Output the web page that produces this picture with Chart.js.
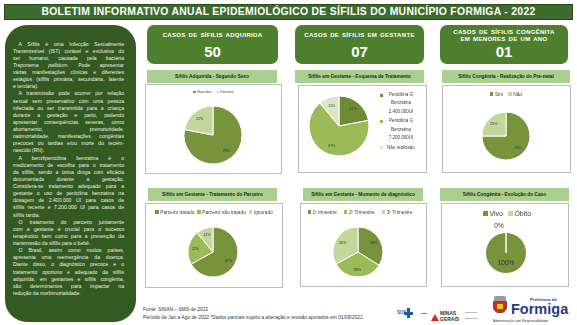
<!DOCTYPE html>
<html lang="pt-BR">
<head>
<meta charset="utf-8">
<script src="https://cdn.jsdelivr.net/npm/chart.js@4.4.1/dist/chart.umd.min.js"></script>
<style>
*{box-sizing:border-box}
html,body{margin:0;padding:0;background:#fff}
body{width:577px;height:325px;position:relative;overflow:hidden;font-family:"Liberation Sans",Arial,sans-serif}
.abs{position:absolute}
#hdr{left:4px;top:4px;width:569px;height:16px;background:#3d6b2b;border:1px solid #294a1b;color:#fff;font-weight:bold;font-size:10.4px;text-align:center;line-height:14px;letter-spacing:.3px}
#side{left:5px;top:25px;width:131px;height:297px;background:#325a21;border-radius:22px}
#sideText{left:13px;top:40.5px;width:111px;color:#eef3e6;font-size:5.1px;line-height:7.14px}
#sideText div{white-space:nowrap;height:7.14px}
.kpi{background:#4e7f2e;border-radius:7px;color:#fff;text-align:center}
.kpi .lbl{position:absolute;left:0;right:0;top:1px;height:17px;display:flex;align-items:center;justify-content:center;font-weight:bold;font-size:6.1px;line-height:7px;letter-spacing:.25px;word-spacing:1px}
.kpi .num{position:absolute;left:0;right:0;top:19px;font-weight:bold;font-size:15px;line-height:16px}
.tb{background:#a9d08e;color:#1e2a14;font-weight:bold;font-size:4.8px;display:flex;align-items:center;justify-content:center;white-space:nowrap}
.pn{background:#fff;border:1px solid #bdbdbd}
.lg{display:flex;justify-content:center;align-items:center;color:#404040;white-space:nowrap}
.lg span{display:flex;align-items:center}
.lg i{display:inline-block;margin-right:1.5px}
#lg2{color:#404040;font-size:4.5px;line-height:8.3px}
#lg2 .it{display:flex;align-items:flex-start;margin-bottom:1.5px}
#lg2 i{display:inline-block;width:3px;height:3px;margin-top:2.7px;margin-right:2px}
#lg2 .tx{width:32px;text-align:center}
#foot{left:143px;top:306px;color:#333;font-size:4.9px;line-height:7.5px}
</style>
</head>
<body>
<div id="hdr" class="abs">BOLETIM INFORMATIVO ANUAL EPIDEMIOLÓGICO DE SÍFILIS DO MUNICÍPIO FORMIGA - 2022</div>
<div id="side" class="abs"></div>
<div id="sideText" class="abs"></div>
<div id="foot" class="abs">Fonte: SINAN – SMS de 2022<br>Período de Jan a Ago de 2022 *Dados parciais sujeito a alteração e revisão apurados em 01/09/2022.</div>

<!-- logos -->
<div class="abs" style="left:397px;top:310px;font-size:4.5px;font-weight:bold;color:#1f5aa6">SUS</div>
<div class="abs" style="left:407px;top:308px;width:3px;height:10px;background:#1f5aa6"></div>
<div class="abs" style="left:404px;top:311.5px;width:9px;height:3px;background:#1f5aa6"></div>
<div class="abs" style="left:421px;top:312.5px;width:6px;height:1px;background:#888"></div>
<div class="abs" style="left:431px;top:314px;width:0;height:0;border-left:4px solid transparent;border-right:4px solid transparent;border-bottom:7px solid #d3282e"></div>
<div class="abs" style="left:440px;top:311px;font-size:5px;line-height:5.5px;font-weight:bold;color:#333">MINAS<br>GERAIS</div>
<div class="abs" style="left:465px;top:312px;width:12px;height:7px;border-top:1px solid #bbb;border-bottom:1px solid #bbb"></div>
<div class="abs" style="left:494px;top:296px;width:12px;height:5px;background:#9a9a9a;border-radius:2px 2px 0 0"></div>
<div class="abs" style="left:493px;top:301px;width:14px;height:12px;background:#c0302c;border-radius:0 0 6px 6px;border:1px solid #6b4b2b"></div>
<div class="abs" style="left:497px;top:304px;width:6px;height:5px;background:#f0c419"></div>
<div class="abs" style="left:530px;top:297px;font-size:4.4px;font-weight:bold;color:#1e3c84">Prefeitura de</div>
<div class="abs" style="left:511px;top:302px;font-size:14.5px;line-height:15px;font-weight:bold;color:#1e3c84">Formiga</div>
<div class="abs" style="left:493px;top:318.5px;font-size:3.3px;color:#333">Administração com Responsabilidade</div>

<script>
// kpi cards
const kpiTitles = ['CASOS DE SÍFILIS ADQUIRIDA', 'CASOS DE SÍFILIS EM GESTANTE', 'CASOS DE SÍFILIS CONGÊNITA<br>EM MENORES DE UM ANO'];
const kpiValues = ['50', '07', '01'];

// chart titles
const chartTitles = [
  'Sífilis Adquirida - Segundo Sexo',
  'Sífilis em Gestante - Esquema de Tratamento',
  'Sífilis Congênita - Realização do Pré-natal',
  'Sífilis em Gestante - Tratamento do Parceiro',
  'Sífilis em Gestante - Momento de diagnóstico',
  'Sífilis Congênita - Evolução do Caso'
];

// pie data (percent)
const sexoLabels = ['Masculino', 'Feminino'];
const sexoValues = [78, 22];
const tratamentoLabels = ['Penicilina G Benzatina 2.400.000UI', 'Penicilina G Benzatina 7.200.000UI', 'Não realizado'];
const tratamentoValues = [22, 67, 11];
const preNatalLabels = ['Sim', 'Não'];
const preNatalValues = [75, 25];
const parceiroLabels = ['Parceiro tratado', 'Parceiro não tratado', 'Ignorado'];
const parceiroValues = [67, 22, 11];
const diagnosticoLabels = ['1º trimestre', '2º Trimestre', '3º Trimestre'];
const diagnosticoValues = [34, 33, 33];
const evolucaoLabels = ['Vivo', 'Óbito'];
const evolucaoValues = [100, 0];

// colours
const dark = '#77933c', mid = '#9bbb59', light = '#c3d69b', pale = '#d9e5c3';

// left panel text
const sideParas = [
  ['A Sífilis é uma Infecção Sexualmente', 'Transmissível (IST) curável e exclusiva do', 'ser humano, causada pela bactéria',
   '<i>Treponema pallidum</i>. Pode apresentar', 'várias manifestações clínicas e diferentes',
   'estágios (sífilis primária, secundária, latente', 'e terciária).'],
  ['A transmissão pode ocorrer por relação', 'sexual sem preservativo com uma pessoa', 'infectada ou ser transmitida para a criança',
   'durante a gestação e parto, podendo', 'apresentar consequências severas, como', 'abortamento, prematuridade,',
   'natimortalidade, manifestações congênitas', 'precoces ou tardias e/ou morte do recém-', 'nascido (RN).'],
  ['A benzilpenicilina benzatina é o', 'medicamento de escolha para o tratamento', 'da sífilis, sendo a única droga com eficácia',
   'documentada durante a gestação.', 'Considera-se tratamento adequado para a', 'gestante o uso de penicilina benzatina na',
   'dosagem de 2.400.000 UI para casos de', 'sífilis recente e 7.200.000 UI para casos de', 'sífilis tardia.'],
  ['O tratamento do parceiro juntamente', 'com a gestante é crucial para o sucesso', 'terapêutico bem como para a prevenção da',
   'transmissão da sífilis para o bebê.'],
  ['O Brasil, assim como muitos países,', 'apresenta uma reemergência da doença.', 'Diante disso, o diagnóstico precoce e o',
   'tratamento oportuno e adequado da sífilis', 'adquirida, em gestantes e sífilis congênita,', 'são determinantes para impactar na',
   'redução da morbimortalidade.']
];

function addBox(cls, x, y, w, h, html) {
  const d = document.createElement('div');
  d.className = 'abs ' + cls;
  d.style.cssText = `left:${x}px;top:${y}px;width:${w}px;height:${h}px`;
  if (html) d.innerHTML = html;
  document.body.appendChild(d);
  return d;
}

function buildSide() {
  const box = document.getElementById('sideText');
  sideParas.forEach(p => {
    p.forEach((line, i) => {
      const d = document.createElement('div');
      if (i === 0) d.style.paddingLeft = '5.5px';
      d.innerHTML = '<span>' + line + '</span>';
      if (i < p.length - 1) d.className = 'j';
      box.appendChild(d);
    });
  });
  // justify each line by word spacing
  box.querySelectorAll('.j').forEach(d => {
    const s = d.firstChild;
    const avail = 111 - (parseFloat(d.style.paddingLeft) || 0);
    const w = s.getBoundingClientRect().width;
    const n = (s.textContent.match(/ /g) || []).length;
    if (n) s.style.wordSpacing = ((avail - w) / n) + 'px';
  });
}

// percent labels on slices
const pctLabels = {
  id: 'pctLabels',
  afterDatasetsDraw(chart, args, opts) {
    const ctx = chart.ctx;
    const data = chart.data.datasets[0].data;
    const total = data.reduce((a, b) => a + b, 0);
    ctx.save();
    ctx.font = `${opts.size}px "Liberation Sans", Arial, sans-serif`;
    ctx.fillStyle = '#333';
    ctx.textAlign = 'center';
    ctx.textBaseline = 'middle';
    chart.getDatasetMeta(0).data.forEach((arc, i) => {
      const p = arc.getProps(['x', 'y', 'startAngle', 'endAngle', 'outerRadius'], true);
      const a = (p.startAngle + p.endAngle) / 2;
      let d = p.outerRadius * 0.72, dx = 0;
      if (data[i] === total) d = p.outerRadius * 0.5;
      if (data[i] === 0) { d = p.outerRadius + 6; dx = -7; }
      ctx.fillText(Math.round(data[i] / total * 100) + '%', p.x + Math.cos(a) * d + dx, p.y + Math.sin(a) * d);
    });
    ctx.restore();
  }
};

function makePie(box, cx, cy, r, labels, values, colors, labelSize) {
  const [x, y, w, h] = box;
  addBox('pn', x, y, w, h);
  const holder = addBox('', x, y, w, h);
  const cv = document.createElement('canvas');
  holder.appendChild(cv);
  const rr = r + 0.5;
  new Chart(cv, {
    type: 'pie',
    data: { labels: labels, datasets: [{ data: values, backgroundColor: colors, borderColor: '#fff', borderWidth: 1 }] },
    options: {
      responsive: true, maintainAspectRatio: false, animation: false,
      layout: { padding: { left: cx - rr - x, right: x + w - cx - rr, top: cy - rr - y, bottom: y + h - cy - rr } },
      plugins: { legend: { display: false }, tooltip: { enabled: false }, pctLabels: { size: labelSize } }
    },
    plugins: [pctLabels]
  });
}

function makeLegend(cx, cy, labels, colors, size, sq, gap) {
  const d = addBox('lg', cx - 80, cy - 5, 160, 10);
  d.style.fontSize = size + 'px';
  d.style.gap = gap + 'px';
  labels.forEach((l, i) => {
    d.innerHTML += `<span><i style="width:${sq}px;height:${sq}px;background:${colors[i]}"></i>${l}</span>`;
  });
}

function build() {
  buildSide();

  // kpi cards
  const kpiBoxes = [[147, 25, 131], [295, 25, 129], [440, 25, 128]];
  kpiBoxes.forEach((b, i) => {
    addBox('kpi', b[0], b[1], b[2], 39, `<div class="lbl">${kpiTitles[i]}</div><div class="num">${kpiValues[i]}</div>`);
  });

  // title bars
  const tbBoxes = [[147, 70, 130], [295, 70, 129], [442, 70, 128], [148, 188, 129], [303, 188, 120], [440, 188, 129]];
  tbBoxes.forEach((b, i) => addBox('tb', b[0], b[1], b[2], 13, chartTitles[i]));

  // pies
  makePie([145, 84, 137, 90], 213, 135, 29, sexoLabels, sexoValues, [dark, light], 3.5);
  makeLegend(213.5, 92, sexoLabels, [dark, light], 3.2, 2.5, 5);

  const tc = ['#6e8a37', mid, pale];
  makePie([298, 85, 129, 88], 339, 126, 30, tratamentoLabels, tratamentoValues, tc, 3.5);
  const lg2 = addBox('', 380, 91, 45, 70);
  lg2.id = 'lg2';
  tratamentoLabels.forEach((l, i) => {
    lg2.innerHTML += `<div class="it"><i style="background:${tc[i]}"></i><div class="tx">${l}</div></div>`;
  });

  makePie([442, 85, 129, 88], 506, 136, 24, preNatalLabels, preNatalValues, [dark, light], 3.6);
  makeLegend(506, 94, preNatalLabels, [dark, light], 4.8, 3.5, 5);

  makePie([145, 203, 138, 85], 213, 252, 25, parceiroLabels, parceiroValues, [dark, mid, light], 3.5);
  makeLegend(214, 212, parceiroLabels, [dark, mid, light], 4.8, 3.5, 3);

  makePie([300, 203, 127, 84], 358, 252, 25, diagnosticoLabels, diagnosticoValues, [dark, mid, light], 3.8);
  makeLegend(360, 212, diagnosticoLabels, [dark, mid, light], 4.8, 3.5, 7);

  makePie([441, 203, 128, 84], 506, 253, 20.5, evolucaoLabels, evolucaoValues, [dark, light], 6.5);
  makeLegend(507, 213, evolucaoLabels, [dark, light], 7, 5, 5);
}

build();
</script>
</body>
</html>
